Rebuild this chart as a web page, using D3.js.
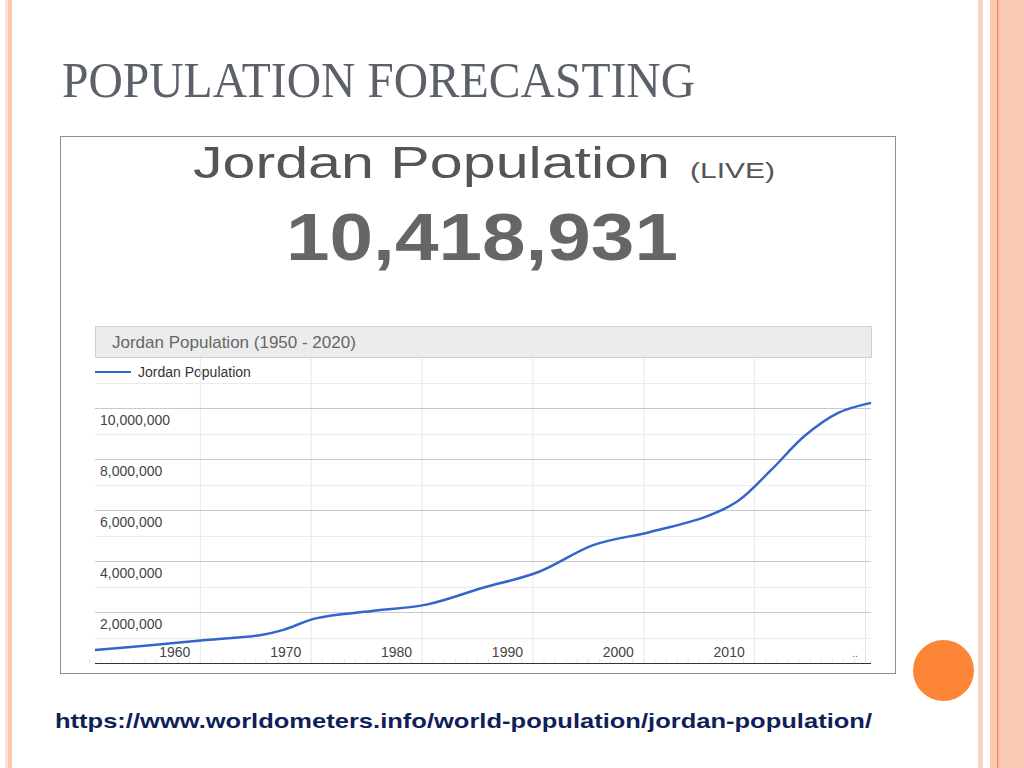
<!DOCTYPE html>
<html>
<head>
<meta charset="utf-8">
<script src="https://cdn.jsdelivr.net/npm/d3@7"></script>
<style>
  body { margin: 0; background: #fff; }
  svg { display: block; }
</style>
</head>
<body>
<div id="slide"></div>
<script>
// population of Jordan
const years = [1950, 1955, 1960, 1965, 1967, 1970, 1975, 1980, 1985, 1990, 1995, 2000, 2005, 2008, 2011, 2014, 2017, 2020];
const population = [510000, 700000, 900000, 1100000, 1300000, 1760000, 2040000, 2300000, 2950000, 3570000, 4630000, 5130000, 5720000, 6350000, 7570000, 8900000, 9800000, 10200000];
const yearTicks = [1960, 1970, 1980, 1990, 2000, 2010];
const popTicks = [2000000, 4000000, 6000000, 8000000, 10000000];
const minorTicks = [1000000, 3000000, 5000000, 7000000, 9000000, 11000000];
const liveCount = "10,418,931";

const W = 1024, H = 768;
const svg = d3.select("#slide").append("svg")
    .attr("width", W)
    .attr("height", H);

// slide decoration
svg.append("rect").attr("x", 5).attr("y", 0).attr("width", 3).attr("height", H).attr("fill", "#fde3d8");
svg.append("rect").attr("x", 8).attr("y", 0).attr("width", 4).attr("height", H).attr("fill", "#fcc6b3");
svg.append("rect").attr("x", 978).attr("y", 0).attr("width", 5).attr("height", H).attr("fill", "#fcd3c3");
svg.append("rect").attr("x", 990).attr("y", 0).attr("width", 34).attr("height", H).attr("fill", "#fbc8b4");
svg.append("rect").attr("x", 997).attr("y", 0).attr("width", 1.5).attr("height", H).attr("fill", "#f0935f");
svg.append("circle").attr("cx", 943.5).attr("cy", 670.5).attr("r", 30.5).attr("fill", "#fd8538");

svg.append("text")
    .attr("x", 62).attr("y", 97)
    .attr("textLength", 633).attr("lengthAdjust", "spacingAndGlyphs")
    .style("font-family", "'Liberation Serif', 'DejaVu Serif', serif")
    .style("font-size", "50px")
    .attr("fill", "#5b6069")
    .text("POPULATION FORECASTING");

// screenshot frame
svg.append("rect")
    .attr("x", 60.5).attr("y", 136.5)
    .attr("width", 835).attr("height", 537)
    .attr("fill", "#fff").attr("stroke", "#8e8e8e");

svg.append("text")
    .attr("x", 193).attr("y", 178)
    .attr("textLength", 477).attr("lengthAdjust", "spacingAndGlyphs")
    .style("font-family", "'Liberation Sans', Arial, sans-serif")
    .style("font-size", "45px")
    .attr("fill", "#555")
    .text("Jordan Population");
svg.append("text")
    .attr("x", 690).attr("y", 178)
    .attr("textLength", 85).attr("lengthAdjust", "spacingAndGlyphs")
    .style("font-family", "'Liberation Sans', Arial, sans-serif")
    .style("font-size", "22px")
    .attr("fill", "#555")
    .text("(LIVE)");
svg.append("text")
    .attr("x", 286).attr("y", 260)
    .attr("textLength", 392).attr("lengthAdjust", "spacingAndGlyphs")
    .style("font-family", "'Liberation Sans', Arial, sans-serif")
    .style("font-size", "66px")
    .style("font-weight", "bold")
    .attr("fill", "#666")
    .text(liveCount);

// chart header and legend
svg.append("rect")
    .attr("x", 95.5).attr("y", 326.5)
    .attr("width", 776).attr("height", 31)
    .attr("fill", "#ececec").attr("stroke", "#cfcfcf");
svg.append("text")
    .attr("x", 112).attr("y", 348)
    .style("font-family", "'Liberation Sans', Arial, sans-serif")
    .style("font-size", "17px")
    .attr("fill", "#666")
    .text("Jordan Population (1950 - 2020)");
svg.append("line")
    .attr("x1", 95).attr("x2", 131).attr("y1", 372).attr("y2", 372)
    .attr("stroke", "#3366cc").attr("stroke-width", 2);
svg.append("text")
    .attr("x", 138).attr("y", 377)
    .style("font-family", "'Liberation Sans', Arial, sans-serif")
    .style("font-size", "14px")
    .attr("fill", "#333")
    .text("Jordan Population");

// scales
const x = d3.scaleLinear().domain([1950, 2020]).range([95, 871]);
const y = d3.scaleLinear().domain([0, 2000000]).range([663, 612]);

const g = svg.append("g");

g.selectAll(".vgrid")
    .data(yearTicks.concat([2020]))
    .enter().append("line")
    .attr("class", "vgrid")
    .attr("x1", d => x(d) - 5.5).attr("x2", d => x(d) - 5.5)
    .attr("y1", 358).attr("y2", 663)
    .attr("stroke", "#e8e8e8");

g.selectAll(".minor")
    .data(minorTicks)
    .enter().append("line")
    .attr("class", "minor")
    .attr("x1", 95).attr("x2", 871)
    .attr("y1", d => Math.round(y(d)) + 0.5).attr("y2", d => Math.round(y(d)) + 0.5)
    .attr("stroke", "#ebebeb");

g.selectAll(".major")
    .data(popTicks)
    .enter().append("line")
    .attr("class", "major")
    .attr("x1", 95).attr("x2", 871)
    .attr("y1", d => Math.round(y(d)) + 0.5).attr("y2", d => Math.round(y(d)) + 0.5)
    .attr("stroke", "#c8c8c8");

g.selectAll(".ylab")
    .data(popTicks)
    .enter().append("text")
    .attr("class", "ylab")
    .attr("x", 100).attr("y", d => y(d) + 17)
    .style("font-family", "'Liberation Sans', Arial, sans-serif")
    .style("font-size", "14px")
    .attr("fill", "#444")
    .text(d => d3.format(",")(d));

// little year ticks along the baseline
g.selectAll(".ytick")
    .data(d3.range(1950, 2021))
    .enter().append("line")
    .attr("class", "ytick")
    .attr("x1", d => x(d) - 5.5).attr("x2", d => x(d) - 5.5)
    .attr("y1", 659).attr("y2", 663)
    .attr("stroke", "#e6e6e6");

g.append("line")
    .attr("x1", 95).attr("x2", 871).attr("y1", 663.5).attr("y2", 663.5)
    .attr("stroke", "#333").attr("stroke-width", 1.2);

g.selectAll(".xlab")
    .data(yearTicks)
    .enter().append("text")
    .attr("class", "xlab")
    .attr("x", d => x(d) - 31).attr("y", 657)
    .attr("text-anchor", "middle")
    .style("font-family", "'Liberation Sans', Arial, sans-serif")
    .style("font-size", "14px")
    .attr("fill", "#444")
    .text(d => d);
g.append("text")
    .attr("x", 855).attr("y", 657)
    .attr("text-anchor", "middle")
    .style("font-family", "'Liberation Sans', Arial, sans-serif")
    .style("font-size", "11px")
    .attr("fill", "#666")
    .text("..");

const line = d3.line()
    .x((d, i) => x(years[i]))
    .y(d => y(d))
    .curve(d3.curveCatmullRom.alpha(0.5));

g.append("path")
    .datum(population)
    .attr("fill", "none")
    .attr("stroke", "#3366cc")
    .attr("stroke-width", 2.5)
    .attr("d", line);

// source url
svg.append("text")
    .attr("x", 55).attr("y", 728)
    .attr("textLength", 817).attr("lengthAdjust", "spacingAndGlyphs")
    .style("font-family", "'Liberation Sans', Arial, sans-serif")
    .style("font-size", "21px")
    .style("font-weight", "bold")
    .attr("fill", "#0f1f5a")
    .text("https://www.worldometers.info/world-population/jordan-population/");
</script>
</body>
</html>
